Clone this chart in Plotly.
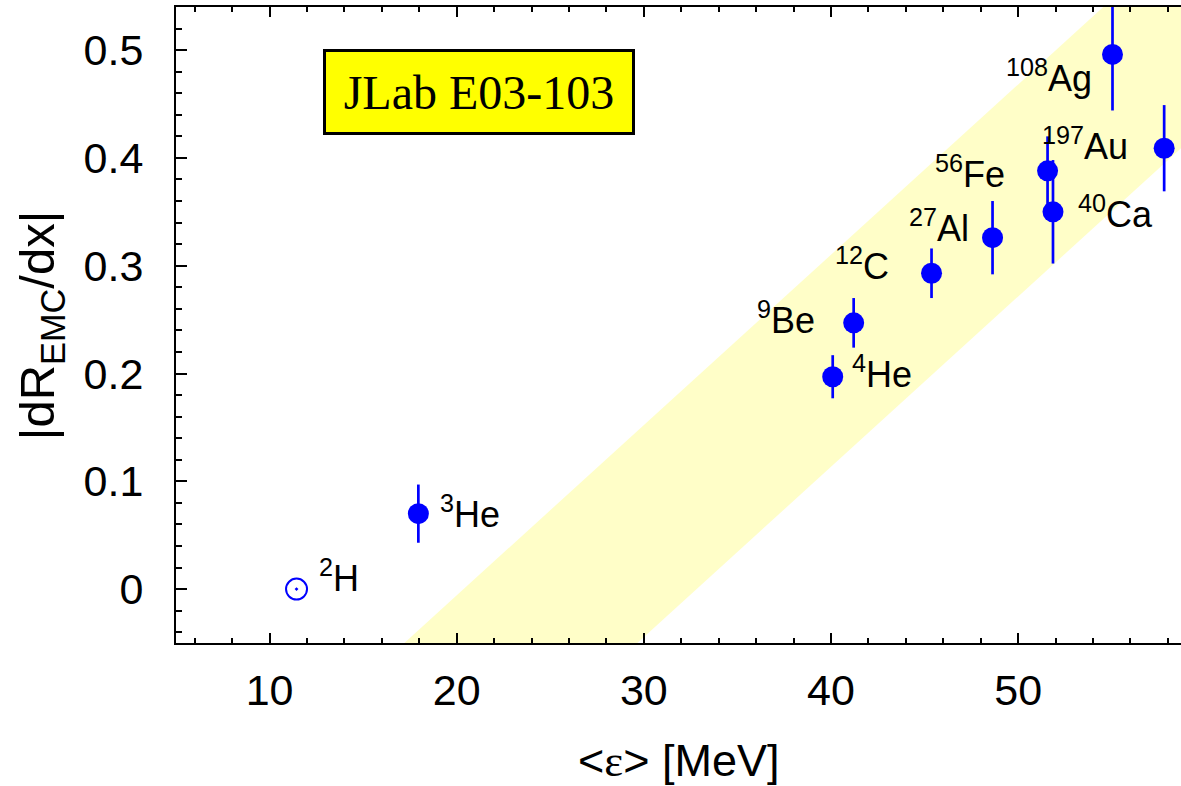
import plotly.graph_objects as go

# Nuclei and their EMC slopes vs mean removal energy
nuclei = ["<sup>2</sup>H", "<sup>3</sup>He", "<sup>4</sup>He", "<sup>9</sup>Be", "<sup>12</sup>C",
          "<sup>27</sup>Al", "<sup>56</sup>Fe", "<sup>40</sup>Ca", "<sup>108</sup>Ag", "<sup>197</sup>Au"]
epsilon = [11.44, 17.95, 40.09, 41.21, 45.37, 48.63, 51.57, 51.86, 55.04, 57.80]
emc_slope = [0.0, 0.070, 0.197, 0.247, 0.293, 0.326, 0.388, 0.350, 0.496, 0.409]
emc_err = [0.0, 0.027, 0.020, 0.023, 0.023, 0.034, 0.032, 0.048, 0.052, 0.040]

# Linear band (edges at two energies)
band_eps = [10.0, 65.0]
band_upper = [-0.1638, 0.7052]
band_lower = [-0.3605, 0.5085]

x_ticks = [10, 20, 30, 40, 50]
y_ticks = [0, 0.1, 0.2, 0.3, 0.4, 0.5]

BLUE = "#0000ff"
SANS = "Liberation Sans"

fig = go.Figure()

fig.add_trace(go.Scatter(
    x=band_eps + band_eps[::-1],
    y=band_upper + band_lower[::-1],
    fill="toself", mode="lines", line=dict(width=0),
    fillcolor="#fffec8", hoverinfo="skip", showlegend=False))

# deuterium reference point (open)
fig.add_trace(go.Scatter(
    x=epsilon[:1], y=emc_slope[:1], mode="markers",
    marker=dict(symbol="circle-open-dot", size=21, color=BLUE, line=dict(width=2, color=BLUE)),
    showlegend=False))

fig.add_trace(go.Scatter(
    x=epsilon[1:], y=emc_slope[1:], mode="markers",
    marker=dict(symbol="circle", size=21, color=BLUE),
    error_y=dict(type="data", array=emc_err[1:], color=BLUE, thickness=2.7, width=0),
    showlegend=False))

# label placement: (anchor, xshift, yshift) per nucleus
label_style = [("left", 20, 13), ("left", 20, 2), ("left", 17, 5), ("right", -37, 5),
               ("right", -41, 9), ("right", -22, 12), ("right", -41, -1), ("left", 23, 0),
               ("right", -19, -22), ("right", -34, 4)]

annotations = []
for name, ex, ey, (anc, dx, dy) in zip(nuclei, epsilon, emc_slope, label_style):
    annotations.append(dict(
        x=ex, y=ey, xref="x", yref="y", text=name, showarrow=False,
        xanchor=anc, yanchor="middle", xshift=dx, yshift=dy,
        font=dict(family=SANS, size=36, color="black")))

annotations.append(dict(
    x=21.21, y=0.4613, xref="x", yref="y", text="JLab E03-103", showarrow=False,
    xanchor="center", yanchor="middle", width=306, height=80,
    bgcolor="#ffff00", bordercolor="black", borderwidth=3, borderpad=0,
    font=dict(family="Liberation Serif", size=48, color="black")))

annotations.append(dict(
    x=0.5, y=-0.185, xref="paper", yref="paper", showarrow=False,
    text="&lt;<span style='font-family:Liberation Serif'>ε</span>&gt; [MeV]",
    xanchor="center", yanchor="middle",
    font=dict(family=SANS, size=45, color="black")))

annotations.append(dict(
    x=-0.135, y=0.5, xref="paper", yref="paper", showarrow=False,
    text="|dR<sub>EMC</sub>/dx|", textangle=-90,
    xanchor="center", yanchor="middle",
    font=dict(family=SANS, size=49, color="black")))

fig.update_layout(
    width=1181, height=786,
    margin=dict(l=176, r=0, t=7, b=143),
    plot_bgcolor="white", paper_bgcolor="white",
    annotations=annotations,
    showlegend=False,
)

fig.update_xaxes(
    range=[5, 58.7], tickvals=x_ticks, showgrid=False, zeroline=False,
    showline=True, linecolor="black", linewidth=2, mirror="ticks",
    ticks="inside", ticklen=10, tickwidth=2, tickcolor="black",
    minor=dict(dtick=2, tick0=0, ticks="inside", ticklen=5, tickwidth=2, tickcolor="black"),
    tickfont=dict(family=SANS, size=43, color="black"), ticklabelstandoff=8,
)
fig.update_yaxes(
    range=[-0.05, 0.54], tickvals=y_ticks, ticktext=["0", "0.1", "0.2", "0.3", "0.4", "0.5"],
    showgrid=False, zeroline=False,
    showline=True, linecolor="black", linewidth=2, mirror=False,
    ticks="inside", ticklen=11, tickwidth=2, tickcolor="black",
    minor=dict(dtick=0.02, tick0=0, ticks="inside", ticklen=6, tickwidth=2, tickcolor="black"),
    tickfont=dict(family=SANS, size=43, color="black"), ticklabelstandoff=22,
)

fig.write_html("out.html")
